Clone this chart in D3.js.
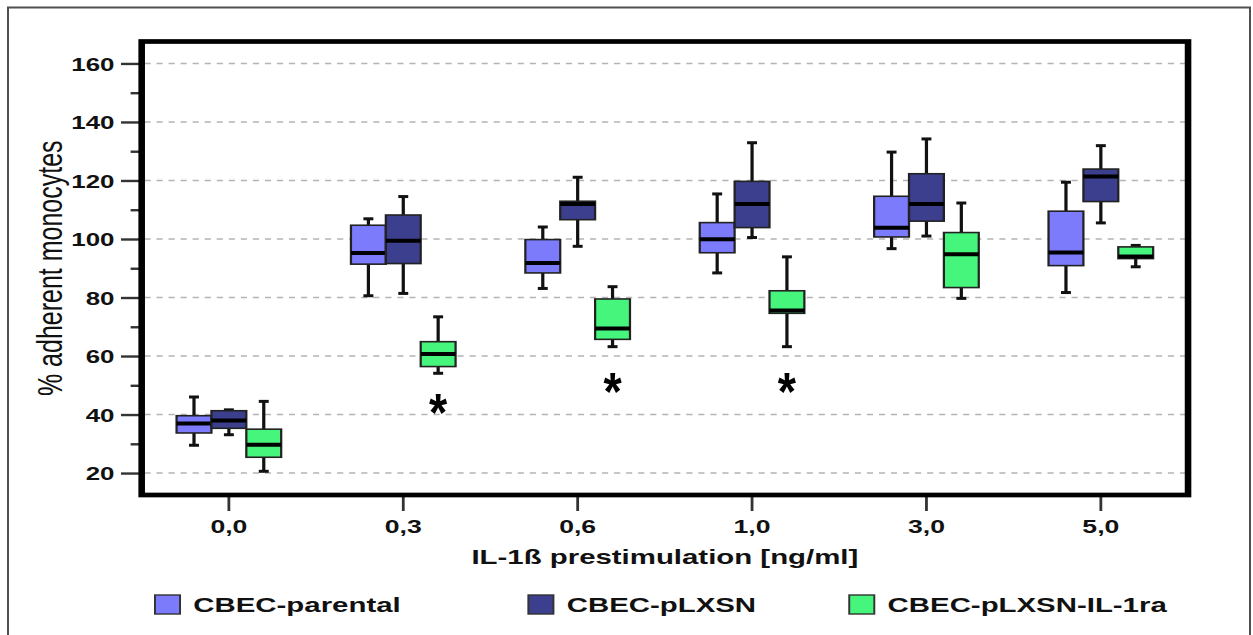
<!DOCTYPE html>
<html><head><meta charset="utf-8">
<script src="https://cdn.jsdelivr.net/npm/d3@7"></script>
<style>html,body{margin:0;padding:0;background:#fff;} svg{display:block;font-family:"Liberation Sans",Arial,sans-serif;}</style>
</head><body><svg id="chart" width="1253" height="635"></svg>
<script>
// ---------- DATA ----------
const categories = ["0,0", "0,3", "0,6", "1,0", "3,0", "5,0"];
const seriesNames = ["CBEC-parental", "CBEC-pLXSN", "CBEC-pLXSN-IL-1ra"];
// each entry: [lower whisker, Q1, median, Q3, upper whisker]
const parental = [
  [29.5, 33.7, 36.9, 39.6, 46.0],
  [80.6, 91.4, 95.2, 104.7, 106.9],
  [83.1, 88.4, 91.8, 99.8, 104.1],
  [88.4, 95.3, 99.9, 105.6, 115.4],
  [96.7, 100.7, 103.8, 114.6, 129.7],
  [81.7, 90.9, 95.4, 109.5, 119.4]
];
const pLXSN = [
  [33.1, 35.3, 38.0, 41.3, 41.6],
  [81.4, 91.6, 99.4, 108.2, 114.5],
  [97.5, 106.6, 112.0, 112.9, 121.1],
  [100.5, 103.9, 112.0, 119.7, 132.9],
  [101.0, 106.1, 112.0, 122.3, 134.2],
  [105.5, 112.8, 121.4, 123.9, 131.9]
];
const il1ra = [
  [20.6, 25.4, 29.7, 35.0, 44.5],
  [54.1, 56.4, 60.7, 64.9, 73.4],
  [63.2, 65.7, 69.4, 79.5, 83.7],
  [63.2, 74.6, 75.6, 82.3, 93.9],
  [79.7, 83.4, 94.8, 102.2, 112.3],
  [90.5, 93.3, 94.0, 97.3, 97.8]
];
const yTicks = [20, 40, 60, 80, 100, 120, 140, 160];
const yMinorTicks = [30, 50, 70, 90, 110, 130, 150];
const sigCategories = ["0,3", "0,6", "1,0"];
const sigLevels = [43.3, 50.7, 50.7];
const xTitle = "IL-1ß prestimulation [ng/ml]";
const yTitle = "% adherent monocytes";

// ---------- STYLE / LAYOUT ----------
const colors = ["#7b7bfb", "#3b3f8e", "#46f67c"];
const SX = 1.4; // horizontal stretch of the original picture
const frame = {left: 101.2, right: 848.6, top: 41.5, bottom: 495};
const legendX = [110.7, 377.4, 606.6];

const svg = d3.select("#chart");
svg.append("rect").attr("x", 8).attr("y", 7.5).attr("width", 1242).attr("height", 700)
  .attr("fill", "none").attr("stroke", "#505050").attr("stroke-width", 2);

const g = svg.append("g").attr("transform", `scale(${SX},1)`);

const x = d3.scaleBand().domain(categories).range([frame.left, frame.right]);
const inner = d3.scaleBand().domain(seriesNames).range([0, x.bandwidth() * 0.6]);
const y = d3.scaleLinear().domain([12.5, 167.5]).range([frame.bottom, frame.top]);

// gridlines
g.append("g").selectAll("line").data(yTicks).join("line")
  .attr("x1", frame.left + 2).attr("x2", frame.right - 2)
  .attr("y1", d => y(d)).attr("y2", d => y(d))
  .attr("stroke", "#b4b4b4").attr("stroke-width", 1.6).attr("stroke-dasharray", "4.4,4.2");

// y axis major
const yAxis = g.append("g").attr("transform", `translate(${frame.left},0)`)
  .call(d3.axisLeft(y).tickValues(yTicks).tickSize(14.8).tickPadding(4.6).tickFormat(d3.format("d")));
yAxis.select(".domain").remove();
yAxis.selectAll(".tick line").attr("stroke", "#333").attr("stroke-width", 2.4);
yAxis.selectAll(".tick text").attr("font-size", 18.5).attr("font-weight", "bold").attr("fill", "#111")
  .attr("font-family", "Liberation Sans, Arial, sans-serif").attr("dy", "0.36em");
// y axis minor
const yMinor = g.append("g").attr("transform", `translate(${frame.left},0)`)
  .call(d3.axisLeft(y).tickValues(yMinorTicks).tickSize(7.9).tickFormat(""));
yMinor.select(".domain").remove();
yMinor.selectAll(".tick line").attr("stroke", "#333").attr("stroke-width", 2.4);

// x axis
const xAxis = g.append("g").attr("transform", `translate(0,${frame.bottom})`)
  .call(d3.axisBottom(x).tickSize(16).tickPadding(9));
xAxis.select(".domain").remove();
xAxis.selectAll(".tick line").attr("stroke", "#333").attr("stroke-width", 2);
xAxis.selectAll(".tick text").attr("font-size", 19).attr("font-weight", "bold").attr("fill", "#111")
  .attr("font-family", "Liberation Sans, Arial, sans-serif");

// boxes
const allSeries = [parental, pLXSN, il1ra];
const capW = 7.1;
allSeries.forEach((vals, si) => {
  const sg = g.append("g");
  const rows = categories.map((c, i) => ({c, s: vals[i]}));
  const bx = d => x(d.c) + x.bandwidth() * 0.2 + inner(seriesNames[si]);
  const bw = inner.bandwidth();
  const item = sg.selectAll("g").data(rows).join("g");
  // whiskers
  item.append("line").attr("x1", d => bx(d) + bw / 2).attr("x2", d => bx(d) + bw / 2)
    .attr("y1", d => y(d.s[3])).attr("y2", d => y(d.s[4])).attr("stroke", "#111").attr("stroke-width", 2.3);
  item.append("line").attr("x1", d => bx(d) + bw / 2).attr("x2", d => bx(d) + bw / 2)
    .attr("y1", d => y(d.s[1])).attr("y2", d => y(d.s[0])).attr("stroke", "#111").attr("stroke-width", 2.3);
  [0, 4].forEach(k => {
    item.append("line").attr("x1", d => bx(d) + bw / 2 - capW / 2).attr("x2", d => bx(d) + bw / 2 + capW / 2)
      .attr("y1", d => y(d.s[k])).attr("y2", d => y(d.s[k])).attr("stroke", "#111").attr("stroke-width", 3);
  });
  // box
  item.append("rect").attr("x", d => bx(d)).attr("width", bw)
    .attr("y", d => y(d.s[3])).attr("height", d => y(d.s[1]) - y(d.s[3]))
    .attr("fill", colors[si]).attr("stroke", "#222").attr("stroke-width", 1.6);
  // median
  item.append("line").attr("x1", d => bx(d)).attr("x2", d => bx(d) + bw)
    .attr("y1", d => y(d.s[2])).attr("y2", d => y(d.s[2])).attr("stroke", "#000").attr("stroke-width", 4);
});

// significance asterisks (under green boxes)
const starFs = 54;
g.append("g").selectAll("text").data(sigCategories).join("text")
  .attr("transform", (c, i) => {
    const cx = x(c) + x.bandwidth() * 0.2 + inner(seriesNames[2]) + inner.bandwidth() / 2;
    return `translate(${cx},${y(sigLevels[i]) + starFs * 0.49}) scale(0.62,1)`;
  })
  .attr("text-anchor", "middle").attr("font-size", starFs).attr("font-weight", "bold").attr("fill", "#000")
  .text("*");

// frame
g.append("rect").attr("x", frame.left).attr("y", frame.top)
  .attr("width", frame.right - frame.left).attr("height", frame.bottom - frame.top)
  .attr("fill", "none").attr("stroke", "#000").attr("stroke-width", 4.7);

// axis titles
g.append("text").attr("x", (frame.left + frame.right) / 2).attr("y", 564)
  .attr("text-anchor", "middle").attr("font-size", 21).attr("font-weight", "bold").attr("fill", "#111")
  .text(xTitle);
g.append("text").attr("transform", `translate(44,${(frame.top + frame.bottom) / 2}) rotate(-90)`)
  .attr("text-anchor", "middle").attr("font-size", 25).attr("fill", "#111")
  .text(yTitle);

// legend
const leg = g.append("g").selectAll("g").data(seriesNames).join("g")
  .attr("transform", (d, i) => `translate(${legendX[i]},595)`);
leg.append("rect").attr("width", 17.9).attr("height", 19)
  .attr("fill", (d, i) => colors[i]).attr("stroke", "#333").attr("stroke-width", 1.4);
leg.append("text").attr("x", 27.4).attr("y", 17).attr("font-size", 21).attr("font-weight", "bold")
  .attr("fill", "#111").text(d => d);
</script></body></html>
